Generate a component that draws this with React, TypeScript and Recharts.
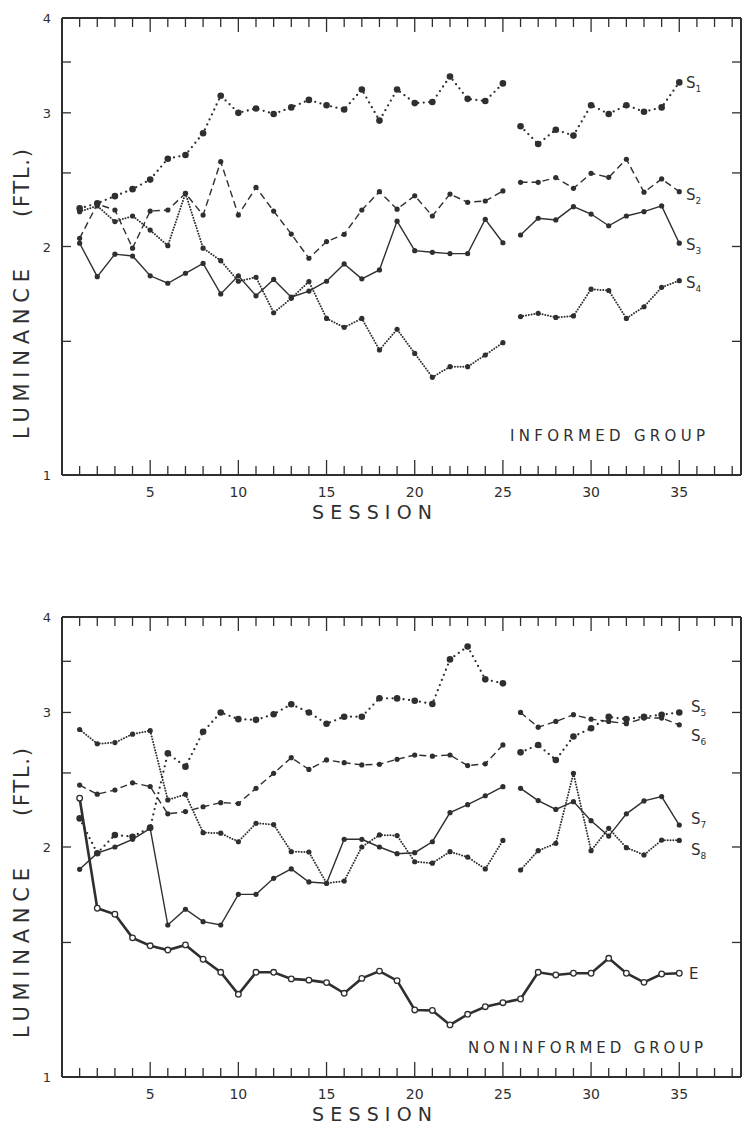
import React from 'react';
import { LineChart, Line, XAxis, YAxis } from 'recharts';

const INK = '#2f2f2f';
const FONT = '"DejaVu Sans", "Open Sans", sans-serif';

const sessionsEarly = [1, 2, 3, 4, 5, 6, 7, 8, 9, 10, 11, 12, 13, 14, 15, 16, 17, 18, 19, 20, 21, 22, 23, 24, 25];
const sessionsLate = [26, 27, 28, 29, 30, 31, 32, 33, 34, 35];
const xTicks = [1, 2, 3, 4, 5, 6, 7, 8, 9, 10, 11, 12, 13, 14, 15, 16, 17, 18, 19, 20, 21, 22, 23, 24, 25, 26, 27, 28, 29, 30, 31, 32, 33, 34, 35, 36, 37, 38];
const yTicks = [1, 1.5, 2, 2.5, 3, 3.5, 4];

// informed group (sessions 1-25, then 26-35)
const s1 = [2.245, 2.28, 2.33, 2.38, 2.45, 2.61, 2.64, 2.82, 3.16, 3.0, 3.04, 2.99, 3.05, 3.12, 3.07, 3.03, 3.22, 2.93, 3.22, 3.09, 3.1, 3.35, 3.13, 3.11, 3.28,
  2.88, 2.73, 2.85, 2.8, 3.07, 2.99, 3.07, 3.01, 3.05, 3.29];
const s2 = [2.05, 2.275, 2.234, 1.99, 2.227, 2.234, 2.35, 2.2, 2.587, 2.2, 2.393, 2.227, 2.077, 1.93, 2.03, 2.075, 2.234, 2.362, 2.24, 2.333, 2.194, 2.345, 2.287, 2.296, 2.367,
  2.43, 2.43, 2.465, 2.386, 2.497, 2.467, 2.606, 2.358, 2.455, 2.362];
const s3 = [2.02, 1.825, 1.954, 1.943, 1.83, 1.789, 1.844, 1.9, 1.732, 1.83, 1.722, 1.81, 1.715, 1.747, 1.8, 1.897, 1.813, 1.863, 2.16, 1.975, 1.965, 1.957, 1.957, 2.172, 2.023,
  2.071, 2.179, 2.168, 2.257, 2.207, 2.13, 2.194, 2.223, 2.262, 2.02];
const s4 = [2.223, 2.262, 2.157, 2.194, 2.102, 2.005, 2.35, 1.99, 1.916, 1.8, 1.822, 1.636, 1.709, 1.798, 1.608, 1.565, 1.608, 1.461, 1.556, 1.446, 1.345, 1.389, 1.389, 1.439, 1.494,
  1.617, 1.633, 1.613, 1.62, 1.757, 1.75, 1.608, 1.666, 1.767, 1.803];

// noninformed group
const s5 = [2.18, 1.963, 2.074, 2.063, 2.12, 2.652, 2.548, 2.83, 3.0, 2.94, 2.934, 2.984, 3.075, 3.0, 2.9, 2.962, 2.962, 3.131, 3.13, 3.108, 3.078, 3.52, 3.66, 3.315, 3.275,
  2.66, 2.72, 2.6, 2.79, 2.86, 2.96, 2.94, 2.96, 2.98, 3.0];
const s6 = [2.41, 2.345, 2.375, 2.427, 2.4, 2.21, 2.225, 2.258, 2.286, 2.28, 2.387, 2.497, 2.618, 2.527, 2.6, 2.579, 2.561, 2.566, 2.605, 2.639, 2.63, 2.639, 2.556, 2.57, 2.72,
  3.0, 2.87, 2.92, 2.98, 2.94, 2.92, 2.9, 2.95, 2.95, 2.89];
const s7 = [1.87, 1.963, 2.0, 2.047, 2.116, 1.581, 1.658, 1.597, 1.581, 1.734, 1.734, 1.82, 1.872, 1.8, 1.793, 2.047, 2.047, 2.0, 1.96, 1.966, 2.032, 2.218, 2.272, 2.334, 2.399,
  2.387, 2.3, 2.24, 2.293, 2.165, 2.067, 2.21, 2.298, 2.328, 2.137];
const s8 = [2.85, 2.73, 2.74, 2.81, 2.84, 2.305, 2.344, 2.088, 2.085, 2.032, 2.148, 2.14, 1.972, 1.97, 1.793, 1.805, 2.0, 2.074, 2.07, 1.913, 1.905, 1.972, 1.94, 1.872, 2.04,
  1.866, 1.978, 2.022, 2.497, 1.978, 2.116, 1.996, 1.953, 2.042, 2.04];
const e = [2.317, 1.663, 1.633, 1.521, 1.485, 1.466, 1.489, 1.426, 1.371, 1.283, 1.371, 1.371, 1.344, 1.339, 1.329, 1.287, 1.346, 1.376, 1.337, 1.224, 1.222, 1.17, 1.208, 1.236, 1.251,
  1.265, 1.371, 1.36, 1.367, 1.367, 1.43, 1.367, 1.33, 1.364, 1.367];

type Kind = 'dots' | 'dash' | 'solid' | 'beads' | 'open';
type Series = { name: string; values: number[]; kind: Kind; split: boolean };
type Tag = { sub: string; main: string; x: number; y: number };

const rows = (sessions: number[], values: number[]) => sessions.map((s, i) => ({ session: s, v: values[i] }));

const strokeFor: Record<Kind, any> = {
  dots: { strokeWidth: 2.3, strokeDasharray: '0 5.5', strokeLinecap: 'round' },
  dash: { strokeWidth: 1.4, strokeDasharray: '7 4' },
  solid: { strokeWidth: 1.4 },
  beads: { strokeWidth: 2, strokeDasharray: '0 2.8', strokeLinecap: 'round' },
  open: { strokeWidth: 2.6 },
};

const dotFor = (kind: Kind) => (p: any) => {
  const { cx, cy, index } = p;
  if (cx == null || cy == null) return <g key={index} />;
  if (kind === 'open') return <circle key={index} cx={cx} cy={cy} r={2.8} fill="#fff" stroke={INK} strokeWidth={1.3} />;
  return <circle key={index} cx={cx} cy={cy} r={kind === 'dots' ? 3.3 : 2.6} fill={INK} />;
};

const bottomTick = (p: any) => {
  const v = p.payload.value;
  const major = v % 5 === 0;
  return (
    <g key={v}>
      <line x1={p.x} x2={p.x} y1={p.y} y2={p.y - (major ? 15 : 9)} stroke={INK} strokeWidth={1.3} />
      {major && (
        <text x={p.x} y={p.y + 22} textAnchor="middle" fontSize={14} fontFamily={FONT} fill={INK}>{v}</text>
      )}
    </g>
  );
};

const topTick = (p: any) => {
  const v = p.payload.value;
  const major = v % 5 === 0;
  return <line key={v} x1={p.x} x2={p.x} y1={p.y} y2={p.y + (major ? 14 : 9)} stroke={INK} strokeWidth={1.3} />;
};

const leftTick = (p: any) => {
  const v = p.payload.value;
  const whole = Number.isInteger(v);
  return (
    <g key={v}>
      {v > 1 && v < 4 && <line x1={p.x} x2={p.x + 9} y1={p.y} y2={p.y} stroke={INK} strokeWidth={1.3} />}
      {whole && (
        <text x={p.x - 15} y={p.y + 5} textAnchor="middle" fontSize={13} fontFamily={FONT} fill={INK}>{v}</text>
      )}
    </g>
  );
};

const rightTick = (p: any) => {
  const v = p.payload.value;
  if (v <= 1 || v >= 4) return <g key={v} />;
  return <line key={v} x1={p.x} x2={p.x - 9} y1={p.y} y2={p.y} stroke={INK} strokeWidth={1.3} />;
};

function Panel({ top, plotH, series, tags, group, groupX, groupW, groupY }: {
  top: number; plotH: number; series: Series[]; tags: Tag[];
  group: string; groupX: number; groupW: number; groupY: number;
}) {
  const mTop = 17;
  const axisH = 40;
  const mBottom = 10;
  const H = mTop + 1 + plotH + axisH + mBottom;
  const pt = mTop + 1;
  const pb = pt + plotH;
  const frame = { stroke: INK, strokeWidth: 2 };

  const lines: React.ReactNode[] = [];
  series.forEach((s) => {
    const segs = s.split
      ? [rows(sessionsEarly, s.values.slice(0, 25)), rows(sessionsLate, s.values.slice(25))]
      : [rows([...sessionsEarly, ...sessionsLate], s.values)];
    segs.forEach((d, k) => {
      lines.push(
        <Line
          key={`${s.name}-${k}`}
          name={s.name}
          data={d}
          dataKey="v"
          xAxisId="b"
          yAxisId="l"
          type="linear"
          stroke={INK}
          fill="none"
          {...strokeFor[s.kind]}
          dot={dotFor(s.kind)}
          activeDot={false}
          isAnimationActive={false}
        />
      );
    });
  });

  return (
    <div style={{ position: 'absolute', left: 0, top, width: 746, height: H }}>
      <LineChart width={746} height={H} margin={{ top: mTop, right: 4, bottom: mBottom, left: 12 }}>
        <XAxis xAxisId="b" type="number" dataKey="session" domain={[0, 38.5]} ticks={xTicks} interval={0}
          tickSize={0} tickMargin={0} tickLine={false} axisLine={frame} tick={bottomTick} height={axisH} allowDataOverflow />
        <XAxis xAxisId="t" orientation="top" type="number" dataKey="session" domain={[0, 38.5]} ticks={xTicks} interval={0}
          tickSize={0} tickMargin={0} tickLine={false} axisLine={frame} tick={topTick} height={1} allowDataOverflow />
        <YAxis yAxisId="l" scale="log" type="number" domain={[1, 4]} ticks={yTicks} interval={0} width={50}
          tickSize={0} tickMargin={0} tickLine={false} axisLine={frame} tick={leftTick} allowDataOverflow />
        <YAxis yAxisId="r" orientation="right" scale="log" type="number" domain={[1, 4]} ticks={yTicks} interval={0} width={1}
          tickSize={0} tickMargin={0} tickLine={false} axisLine={frame} tick={rightTick} allowDataOverflow />
        {lines}
      </LineChart>
      <svg width={746} height={H} style={{ position: 'absolute', left: 0, top: 0, pointerEvents: 'none', overflow: 'visible' }}>
        <g fontFamily={FONT} fill={INK}>
          <text x={29} y={pt + 336} transform={`rotate(-90, 29, ${pt + 336})`} textAnchor="middle" fontSize={21}
            textLength={170} lengthAdjust="spacing">LUMINANCE</text>
          <text x={29} y={pt + 165} transform={`rotate(-90, 29, ${pt + 165})`} textAnchor="middle" fontSize={21}
            textLength={68} lengthAdjust="spacing">(FTL.)</text>
          <text x={312} y={pb + 44} fontSize={19} textLength={120} lengthAdjust="spacing">SESSION</text>
          <text x={groupX} y={groupY} fontSize={15} textLength={groupW} lengthAdjust="spacing">{group}</text>
          {tags.map((t) => (
            <text key={t.main + t.sub} x={t.x} y={t.y} fontSize={15}>
              {t.main}
              {t.sub && <tspan fontSize={9} dy={4}>{t.sub}</tspan>}
            </text>
          ))}
        </g>
      </svg>
    </div>
  );
}

const informed: Series[] = [
  { name: 'S1', values: s1, kind: 'dots', split: true },
  { name: 'S2', values: s2, kind: 'dash', split: true },
  { name: 'S3', values: s3, kind: 'solid', split: true },
  { name: 'S4', values: s4, kind: 'beads', split: true },
];

const noninformed: Series[] = [
  { name: 'S5', values: s5, kind: 'dots', split: true },
  { name: 'S6', values: s6, kind: 'dash', split: true },
  { name: 'S7', values: s7, kind: 'solid', split: true },
  { name: 'S8', values: s8, kind: 'beads', split: true },
  { name: 'E', values: e, kind: 'open', split: false },
];

const informedTags: Tag[] = [
  { main: 'S', sub: '1', x: 686, y: 88 },
  { main: 'S', sub: '2', x: 686, y: 200 },
  { main: 'S', sub: '3', x: 686, y: 250 },
  { main: 'S', sub: '4', x: 686, y: 288 },
];

const noninformedTags: Tag[] = [
  { main: 'S', sub: '5', x: 691, y: 113 },
  { main: 'S', sub: '6', x: 691, y: 142 },
  { main: 'S', sub: '7', x: 691, y: 225 },
  { main: 'S', sub: '8', x: 691, y: 256 },
  { main: 'E', sub: '', x: 689, y: 380 },
];

export default function App() {
  return (
    <div style={{ position: 'absolute', left: 0, top: 0, width: 746, height: 1131, background: '#fff' }}>
      <Panel top={0} plotH={457} series={informed} tags={informedTags}
        group="INFORMED GROUP" groupX={510} groupW={195} groupY={441} />
      <Panel top={599} plotH={460} series={noninformed} tags={noninformedTags}
        group="NONINFORMED GROUP" groupX={468} groupW={235} groupY={454} />
    </div>
  );
}
